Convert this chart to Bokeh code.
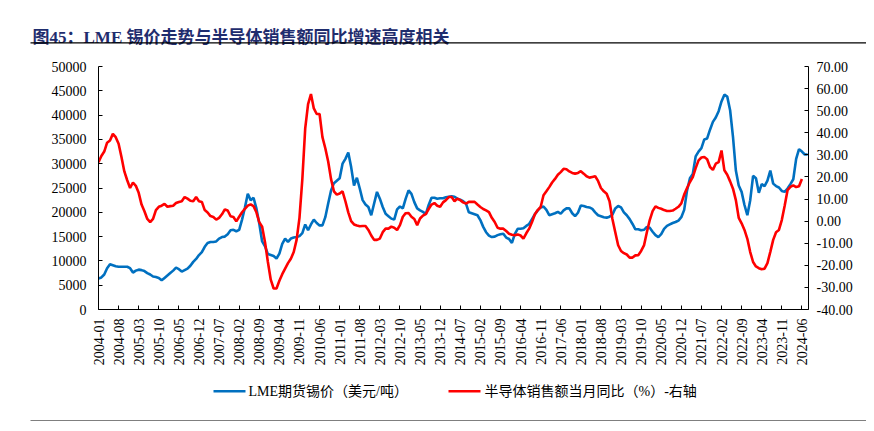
from bokeh.plotting import figure
from bokeh.models import (Range1d, LinearAxis, FixedTicker, NumeralTickFormatter,
                          ColumnDataSource)
from bokeh.layouts import column
from bokeh.core.properties import value
from bokeh.embed import file_html
from bokeh.resources import INLINE
import math

# ---------------- data ----------------
title_text = "图45：LME 锡价走势与半导体销售额同比增速高度相关"
legend_lme = "LME期货锡价（美元/吨）"
legend_semi = "半导体销售额当月同比（%）-右轴"

tick_labels = ["2004-01", "2004-08", "2005-03", "2005-10", "2006-05", "2006-12",
               "2007-07", "2008-02", "2008-09", "2009-04", "2009-11", "2010-06",
               "2011-01", "2011-08", "2012-03", "2012-10", "2013-05", "2013-12",
               "2014-07", "2015-02", "2015-09", "2016-04", "2016-11", "2017-06",
               "2018-01", "2018-08", "2019-03", "2019-10", "2020-05", "2020-12",
               "2021-07", "2022-02", "2022-09", "2023-04", "2023-11", "2024-06"]
label_step = 7  # months between tick labels

# LME tin price, thousand USD/t, monthly from 2004-01
lme_k = [6.4, 6.6, 7.2, 8.5, 9.3, 9.1, 8.9, 8.8, 8.8, 8.8, 8.8, 8.5,
         7.6, 8.0, 8.2, 8.1, 7.9, 7.5, 7.2, 6.8, 6.7, 6.5, 6.0, 6.5,
         7.0, 7.5, 8.0, 8.6, 8.3, 7.8, 8.1, 8.4, 9.0, 9.8, 10.4, 11.2,
         11.8, 12.9, 13.7, 13.9, 13.9, 14.0, 14.6, 14.9, 15.0, 15.5, 16.3, 16.4,
         16.1, 16.4, 18.5, 21.0, 23.8, 22.5, 23.0, 20.8, 17.7, 14.0, 13.0, 11.4,
         11.2, 11.0, 10.5, 11.5, 13.5, 14.6, 13.9, 14.6, 14.8, 14.9, 15.1, 15.7,
         17.5, 16.3, 17.5, 18.5, 17.8, 17.3, 17.3, 19.0, 21.8, 24.5, 26.0, 26.5,
         27.0, 30.0, 31.0, 32.3, 29.3, 25.5, 27.1, 24.9, 22.5, 21.6, 21.1, 19.4,
         21.8, 24.2, 22.8, 21.1, 19.7, 19.2, 18.7, 18.5, 20.6, 21.2, 20.8, 22.8,
         24.5, 23.8, 22.1, 20.8, 20.4, 20.1, 19.6, 21.5, 23.0, 23.0, 22.8, 22.9,
         22.9, 23.1, 23.2, 23.3, 23.2, 22.8, 22.6, 22.3, 21.8, 20.0, 19.8, 19.6,
         19.4, 18.4, 17.0, 15.9, 15.2, 14.9, 15.0, 15.3, 15.5, 15.6, 14.8, 14.5,
         13.7, 15.5, 16.6, 16.6, 16.7, 17.2, 17.6, 18.6, 19.6, 20.4, 21.0, 21.2,
         20.5, 19.4, 19.6, 19.8, 20.1, 19.7, 20.4, 20.8, 20.8, 19.8, 19.2, 19.9,
         21.4, 21.3, 21.1, 21.0, 20.7, 20.0, 19.4, 19.2, 19.0, 18.9, 19.1, 19.5,
         20.8, 21.3, 21.0, 20.0, 19.4, 18.6, 17.6, 16.5, 16.5, 16.3, 16.4, 17.0,
         16.8, 16.0, 15.3, 14.9, 15.5, 16.6, 17.2, 17.5, 17.8, 18.0, 18.3, 19.0,
         20.5, 24.5, 27.0, 27.9, 31.5, 32.5, 33.2, 35.0, 35.2, 37.0, 38.6, 39.5,
         40.8, 42.8, 44.2, 43.8, 41.0, 35.5, 28.6, 25.5, 24.2, 21.5, 19.4, 22.5,
         27.5, 27.0, 24.0, 25.8, 25.4, 26.5, 28.6, 25.9, 25.4, 25.1, 24.4, 24.2,
         24.9, 25.8, 26.8, 31.0, 33.0, 32.5, 31.9, 31.9]

# Semiconductor sales YoY, %, monthly from 2004-01 (right axis)
semi_yoy = [26.7, 29.5, 31.5, 35.5, 36.5, 39.5, 38.0, 35.0, 29.0, 22.5, 18.5, 15.0,
            17.5, 16.0, 12.8, 7.5, 4.5, 1.0, -0.4, 1.0, 5.0, 6.5, 7.0, 7.8,
            6.5, 6.8, 7.0, 8.2, 8.7, 9.0, 10.9, 10.2, 9.2, 9.0, 10.9, 9.0,
            8.7, 5.0, 3.9, 2.3, 1.9, 0.7, 1.5, 3.1, 5.3, 4.8, 2.2, 1.9,
            -0.1, 2.0, 4.0, 5.6, 7.0, 7.6, 6.8, 4.0, -0.5, -2.5, -9.5, -18.5,
            -26.5, -30.5, -30.5, -27.0, -24.0, -21.5, -19.0, -17.0, -14.0, -8.5, 1.5, 19.0,
            42.0, 53.0, 57.5, 51.0, 48.5, 48.5, 38.0, 33.0, 27.0, 19.0, 13.5, 12.0,
            12.5, 13.5, 9.0, 4.0, 0.0, -1.5, -2.0, -2.3, -2.2, -2.2, -4.0, -6.5,
            -8.5, -8.5, -7.9, -5.0, -3.4, -3.4, -2.5, -3.0, -4.0, -1.8, 2.0, 3.6,
            3.7, 2.0, 1.0, -1.8, 1.2, 2.5, 3.2, 5.5, 7.5, 8.2, 7.0, 6.5,
            8.5, 9.5, 10.9, 10.9, 9.0, 10.2, 9.5, 8.5, 7.9, 8.7, 8.7, 8.7,
            7.5, 6.4, 5.5, 4.9, 4.1, 1.5, -0.4, -3.0, -3.4, -3.4, -4.5, -5.7,
            -6.2, -6.4, -6.0, -6.5, -7.9, -5.5, -3.4, -0.4, 3.1, 5.0, 6.4, 11.7,
            13.5, 15.4, 17.5, 19.1, 21.0, 22.2, 23.7, 23.5, 22.5, 21.8, 21.5, 21.8,
            22.6, 21.5, 20.3, 19.7, 20.0, 20.3, 18.2, 15.0, 13.5, 12.4, 9.0, 1.0,
            -5.0, -10.9, -13.5, -14.5, -15.1, -16.5, -16.5, -15.5, -15.4, -13.5, -11.0, -5.0,
            0.5, 4.5, 6.7, 6.0, 5.6, 5.0, 4.6, 4.6, 4.8, 5.6, 6.5, 8.0,
            12.0, 15.0, 17.7, 19.9, 24.0, 27.5, 28.8, 29.0, 28.0, 24.5, 23.2, 26.0,
            26.7, 32.0, 23.0, 21.0, 18.0, 14.7, 9.5, 1.5, -1.0, -4.0, -8.0, -14.0,
            -18.5, -20.5, -21.3, -21.8, -21.5, -19.0, -13.9, -8.5, -5.0, -4.0, 0.5, 7.0,
            14.0, 15.5, 16.2, 15.4, 15.8, 19.1]

left_ticks = [0, 5000, 10000, 15000, 20000, 25000, 30000, 35000, 40000, 45000, 50000]
right_ticks = [-40, -30, -20, -10, 0, 10, 20, 30, 40, 50, 60, 70]

# ---------------- build ----------------
lme = [v * 1000 for v in lme_k]
x_lme = list(range(len(lme)))
x_semi = list(range(len(semi_yoy)))
tick_pos = [i * label_step for i in range(len(tick_labels))]

W = 866
SERIF = "'Liberation Serif', 'Times New Roman', 'Noto Sans CJK SC'"
BLUE = "#0070C0"
RED = "#FF0000"


def pixel_panel(height):
    """A figure whose frame covers the whole canvas, in pixel coordinates."""
    f = figure(width=W, height=height, output_backend="svg", toolbar_location=None,
               x_range=Range1d(0, W), y_range=Range1d(height, 0),
               x_axis_type=None, y_axis_type=None, min_border=0,
               outline_line_color=None, background_fill_color="white",
               border_fill_color="white", frame_align=False)
    f.xgrid.visible = False
    f.ygrid.visible = False
    return f


# --- title panel (page y 0..50)
top = pixel_panel(50)
top.text(x=[32], y=[36.5], text=[title_text], text_font=value(SERIF),
         text_font_size="17px", text_font_style="bold", text_color="#1F2D6E",
         text_baseline="alphabetic", text_align="left")
top.segment(x0=[30], y0=[42.3], x1=[W], y1=[42.3], line_color="black", line_width=1.3)

# --- main chart (page y 50..370)
p = figure(width=W, height=320, output_backend="svg", toolbar_location=None,
           x_range=Range1d(0, 247.3), y_range=Range1d(0, 50000),
           min_border_left=98, min_border_right=58, min_border_top=16,
           min_border_bottom=61, background_fill_color="white",
           border_fill_color="white", outline_line_color=None, frame_align=False)
p.extra_y_ranges = {"right": Range1d(-40, 70)}
p.xgrid.visible = False
p.ygrid.visible = False

src_lme = ColumnDataSource(dict(x=x_lme, y=lme))
src_semi = ColumnDataSource(dict(x=x_semi, y=semi_yoy))
p.line("x", "y", source=src_lme, line_color=BLUE, line_width=2.6)
p.line("x", "y", source=src_semi, line_color=RED, line_width=2.6, y_range_name="right")


def style_axis(ax, standoff):
    ax.axis_line_color = "black"
    ax.axis_line_width = 1
    ax.major_tick_line_color = "black"
    ax.major_tick_in = 4
    ax.major_tick_out = 0
    ax.minor_tick_line_color = None
    ax.major_label_text_font = SERIF
    ax.major_label_text_font_size = "14px"
    ax.major_label_text_color = "black"
    ax.major_label_standoff = standoff


xa = p.xaxis[0]
xa.ticker = FixedTicker(ticks=tick_pos)
xa.major_label_overrides = {t: lab for t, lab in zip(tick_pos, tick_labels)}
xa.major_label_orientation = math.pi / 2
style_axis(xa, 9)

ya = p.yaxis[0]
ya.ticker = FixedTicker(ticks=left_ticks)
ya.formatter = NumeralTickFormatter(format="0")
style_axis(ya, 12)

ra = LinearAxis(y_range_name="right", ticker=FixedTicker(ticks=right_ticks),
                formatter=NumeralTickFormatter(format="0.00"))
style_axis(ra, 8)
p.add_layout(ra, "right")

# --- legend + source rule panel (page y 370..423)
leg = pixel_panel(53)
leg.segment(x0=[213], y0=[20.7], x1=[245], y1=[20.7], line_color=BLUE, line_width=2.6)
leg.segment(x0=[448], y0=[20.7], x1=[480], y1=[20.7], line_color=RED, line_width=2.6)
leg.text(x=[248, 484], y=[20.5, 20.5], text=[legend_lme, legend_semi],
         text_font=value(SERIF), text_font_size="14px", text_color="black",
         text_baseline="middle", text_align="left")
leg.segment(x0=[30], y0=[50], x1=[W], y1=[50], line_color="#7F7F7F", line_width=1.2)

layout = column(top, p, leg, spacing=0)
open("out.html", "w").write(file_html(layout, INLINE))
